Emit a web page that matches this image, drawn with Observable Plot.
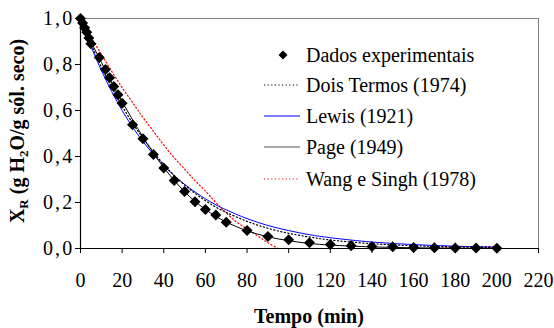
<!DOCTYPE html>
<html><head><meta charset="utf-8">
<script src="https://cdn.jsdelivr.net/npm/d3@7"></script>
<script src="https://cdn.jsdelivr.net/npm/@observablehq/plot@0.6"></script>
<style>
body{margin:0;background:#fff}
#c{position:relative;width:554px;height:328px}
</style></head><body><div id="c"></div>
<script>
// Experimental data
const expT = [0,1,2,3,4,5,9,12,14,16,18,20,25,30,35,40,45,50,55,60,65,70,80,90,100,110,120,130,140,150,160,170,180,190,200];
const expX = [1.0,0.98,0.96,0.94,0.915,0.89,0.83,0.778,0.742,0.704,0.668,0.632,0.538,0.477,0.409,0.35,0.296,0.248,0.203,0.17,0.146,0.114,0.078,0.052,0.038,0.025,0.017,0.012,0.009,0.008,0.004,0.003,0.002,0.002,0.001];
// Model curves
const modelT = [0,5,10,15,20,25,30,35,40,45,50,55,60,65,70,80,90,100,110,120,140,160,180,200];
const doisTermos = [1,0.89,0.79,0.70,0.62,0.545,0.48,0.42,0.365,0.318,0.276,0.24,0.208,0.18,0.157,0.118,0.088,0.066,0.05,0.037,0.021,0.012,0.007,0.004];
const lewis = [1,0.88,0.775,0.682,0.6,0.528,0.465,0.41,0.36,0.317,0.279,0.246,0.216,0.19,0.168,0.13,0.1,0.078,0.06,0.047,0.028,0.017,0.01,0.006];
const page = [1,0.9,0.81,0.72,0.638,0.56,0.485,0.415,0.352,0.296,0.247,0.205,0.17,0.14,0.115,0.077,0.051,0.034,0.022,0.015,0.007,0.003,0.001,0.0005];
const wangT1 = [0,5,10,15,20,25,30,35,40,45,50,55,60,65,70,75,80,85,90,95];
const wangY1 = [1,0.92,0.845,0.77,0.70,0.635,0.57,0.51,0.45,0.395,0.345,0.295,0.25,0.2,0.155,0.115,0.085,0.055,0.025,0.0];
const wangT2 = [172,180,190,200];
const wangY2 = [0,0.006,0.008,0.008];
// Axis ticks
const xTicks = [0,20,40,60,80,100,120,140,160,180,200,220];
const yTicks = [0,0.2,0.4,0.6,0.8,1.0];
// Legend labels
const legendLabels = ["Dados experimentais","Dois Termos (1974)","Lewis (1921)","Page (1949)","Wang e Singh (1978)"];

const expData = expT.map((t,i)=>({t, x:expX[i]}));
const mk = arr => modelT.map((t,i)=>({t, x:arr[i]}));
const wang = [...wangT1.map((t,i)=>({t,x:wangY1[i],s:1})), ...wangT2.map((t,i)=>({t,x:wangY2[i],s:2}))];

const font = "Liberation Serif";
const chart = Plot.plot({
  width:554, height:328, marginLeft:80, marginRight:16, marginTop:18, marginBottom:80,
  style:{fontFamily:font, fontSize:"20px", color:"#000", background:"#fff", overflow:"visible"},
  x:{domain:[0,220]},
  y:{domain:[0,1]},
  marks:[
    Plot.frame({stroke:"#808080", strokeWidth:1}),
    Plot.line(wang, {x:"t", y:"x", z:"s", stroke:"#ff0000", strokeWidth:1.2, strokeDasharray:"1.2,2.4", curve:"catmull-rom"}),
    Plot.line(mk(lewis), {x:"t", y:"x", stroke:"#0000ff", strokeWidth:1, curve:"catmull-rom"}),
    Plot.line(mk(doisTermos), {x:"t", y:"x", stroke:"#000", strokeWidth:1.2, strokeDasharray:"1.2,2.4", curve:"catmull-rom"}),
    Plot.line(mk(page), {x:"t", y:"x", stroke:"#000", strokeWidth:1, curve:"catmull-rom"}),
    Plot.ruleY([0], {stroke:"#000", strokeWidth:1.2}),
    Plot.ruleX([0], {stroke:"#000", strokeWidth:1.2}),
    Plot.axisX({ticks:xTicks, tickSize:5, tickPadding:19, label:null, tickFormat:d=>String(d)}),
    Plot.axisY({ticks:yTicks, tickSize:5, tickPadding:1, label:null, tickFormat:d=>d.toFixed(1).replace(".",",")}),
    Plot.dot(expData, {x:"t", y:"x", symbol:"square", rotate:45, r:4.4, fill:"#000", stroke:"none"})
  ]
});
document.getElementById("c").appendChild(chart);

const svg = d3.select(chart);
// wider y tick labels, as in the reference
svg.selectAll('g[aria-label="y-axis tick label"] text').attr("letter-spacing", 2.2);
// x title
svg.append("text").attr("x",309).attr("y",323).attr("text-anchor","middle")
  .attr("font-size",20).attr("font-weight","bold").text("Tempo (min)");
// y title
const yt = svg.append("text").attr("transform","translate(24,131) rotate(-90)").attr("text-anchor","middle")
  .attr("font-size",20).attr("font-weight","bold");
yt.append("tspan").text("X");
yt.append("tspan").attr("font-size",13).attr("dy",4).text("R");
yt.append("tspan").attr("dy",-4).text(" (g H");
yt.append("tspan").attr("font-size",13).attr("dy",4).text("2");
yt.append("tspan").attr("dy",-4).text("O/g sól. seco)");

// legend
const ly = [55,85,116,147,179];
const lg = svg.append("g").attr("font-size",20).attr("text-anchor","start");
legendLabels.forEach((lab,i)=>{
  const y = ly[i];
  if (i===0) {
    lg.append("rect").attr("x",-3.2).attr("y",-3.2).attr("width",6.4).attr("height",6.4)
      .attr("transform",`translate(283,${y}) rotate(45)`).attr("fill","#000");
  } else {
    const st = [null,{c:"#000",d:"1.2,2.4"},{c:"#0000ff",d:null},{c:"#555",d:null},{c:"#ff0000",d:"1.2,2.4"}][i];
    const l = lg.append("line").attr("x1",264).attr("x2",300).attr("y1",y).attr("y2",y)
      .attr("stroke",st.c).attr("stroke-width",1.2);
    if (st.d) l.attr("stroke-dasharray",st.d);
  }
  lg.append("text").attr("x",306).attr("y",y).attr("dy","0.35em").attr("text-anchor","start").text(lab);
});
svg.attr("font-family", font);
svg.selectAll("text").attr("font-family", font);
</script></body></html>
